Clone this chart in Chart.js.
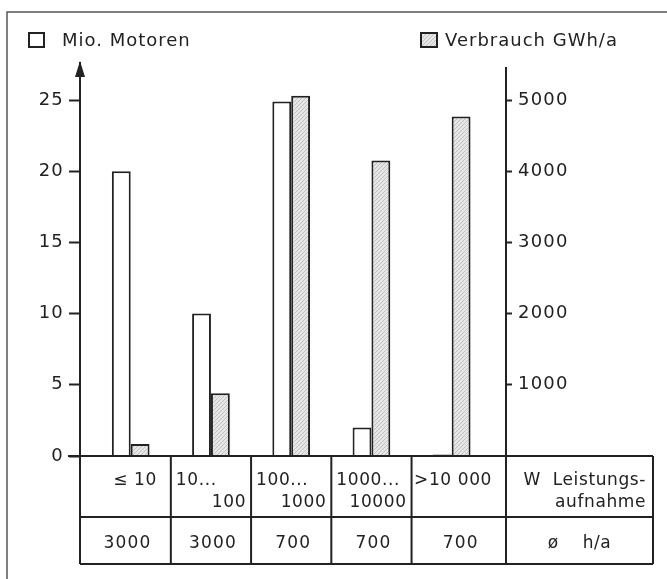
<!DOCTYPE html>
<html><head><meta charset="utf-8">
<script src="https://cdn.jsdelivr.net/npm/chart.js@4/dist/chart.umd.min.js"></script>
<style>html,body{margin:0;padding:0;background:#fff}canvas{display:block}</style>
</head><body>
<canvas id="c" width="667" height="579"></canvas>
<script>
// ---- data ----
const classLine1 = ['≤ 10', '10...', '100...', '1000...', '>10 000'];
const classLine2 = ['', '100', '1000', '10000', ''];
const hoursPerYear = ['3000', '3000', '700', '700', '700'];
const motorsMio = [20, 10, 24.9, 2, 0.1];
const consumptionGWh = [170, 880, 5060, 4150, 4770];
const motorTicks = [0, 5, 10, 15, 20, 25];
const consumptionTicks = [1000, 2000, 3000, 4000, 5000];
const seriesLabels = ['Mio. Motoren', 'Verbrauch GWh/a'];
const rowLabel1 = ['W  Leistungs-', 'aufnahme'];
const rowLabel2 = 'ø    h/a';

const FONT = '"DejaVu Sans", sans-serif';
const INK = '#222';
const canvas = document.getElementById('c');
const ctx0 = canvas.getContext('2d');

function makePattern() {
  const c = document.createElement('canvas');
  c.width = 4; c.height = 4;
  const g = c.getContext('2d');
  g.fillStyle = '#e6e6e6'; g.fillRect(0, 0, 4, 4);
  g.fillStyle = '#c2c2c2';
  for (let i = 0; i < 4; i++) g.fillRect(i, 3 - i, 1, 1);
  return ctx0.createPattern(c, 'repeat');
}
const hatch = makePattern();

const spacing = {
  id: 'spacing',
  beforeDraw(chart) { chart.ctx.letterSpacing = '1.2px'; }
};

const decor = {
  id: 'decor',
  afterDraw(chart) {
    const ctx = chart.ctx;
    const ca = chart.chartArea;
    const xs = chart.scales.x;
    ctx.save();
    // outer frame (top + left)
    ctx.strokeStyle = '#555'; ctx.lineWidth = 1.5;
    ctx.beginPath(); ctx.moveTo(7, 579); ctx.lineTo(7, 12); ctx.lineTo(667, 12); ctx.stroke();

    // arrow head on left axis
    ctx.fillStyle = INK;
    ctx.beginPath();
    ctx.moveTo(ca.left, ca.top - 2);
    ctx.lineTo(ca.left - 5, ca.top + 14);
    ctx.lineTo(ca.left + 5, ca.top + 14);
    ctx.closePath(); ctx.fill();

    // legend
    ctx.letterSpacing = '1px';
    ctx.font = '18px ' + FONT;
    ctx.textBaseline = 'alphabetic';
    ctx.textAlign = 'left';
    ctx.lineWidth = 2; ctx.strokeStyle = INK;
    ctx.fillStyle = '#fff';
    ctx.fillRect(29, 33, 15, 14); ctx.strokeRect(29, 33, 15, 14);
    ctx.fillStyle = INK; ctx.fillText(chart.data.datasets[0].label, 62, 46);
    ctx.fillStyle = hatch;
    ctx.fillRect(421, 33, 16, 14); ctx.strokeRect(421, 33, 16, 14);
    ctx.fillStyle = INK; ctx.fillText(chart.data.datasets[1].label, 445, 46);

    // table
    const top = ca.bottom, mid = 517, bot = 564, tableRight = 653;
    const bounds = [ca.left];
    for (let i = 0; i < classLine1.length - 1; i++) bounds.push(xs.getPixelForValue(i + 0.5));
    bounds.push(ca.right);
    ctx.strokeStyle = INK; ctx.lineWidth = 2;
    ctx.beginPath();
    ctx.moveTo(ca.left - 12, top); ctx.lineTo(tableRight, top);
    ctx.moveTo(ca.left, mid); ctx.lineTo(tableRight, mid);
    ctx.moveTo(ca.left, bot); ctx.lineTo(tableRight, bot);
    bounds.forEach(b => { ctx.moveTo(b, top); ctx.lineTo(b, bot); });
    ctx.moveTo(ca.right, ca.top + 4); ctx.lineTo(ca.right, bot);
    ctx.moveTo(tableRight, top); ctx.lineTo(tableRight, bot);
    ctx.stroke();

    ctx.fillStyle = INK;
    ctx.letterSpacing = '0.6px';
    ctx.font = '17px ' + FONT;
    for (let i = 0; i < classLine1.length; i++) {
      const l = bounds[i], r = bounds[i + 1];
      if (classLine2[i]) {
        ctx.textAlign = 'left'; ctx.fillText(classLine1[i], l + 5, 485);
        ctx.textAlign = 'right'; ctx.fillText(classLine2[i], r - 5, 507);
      } else {
        ctx.textAlign = 'right'; ctx.fillText(classLine1[i], r - 14, 485);
      }
      ctx.textAlign = 'center';
      ctx.letterSpacing = '1.2px';
      ctx.fillText(hoursPerYear[i], (l + r) / 2 + 2, 548);
      ctx.letterSpacing = '0.6px';
    }
    ctx.textAlign = 'right';
    ctx.fillText(rowLabel1[0], tableRight - 7, 485);
    ctx.fillText(rowLabel1[1], tableRight - 7, 507);
    ctx.textAlign = 'center';
    ctx.fillText(rowLabel2, (ca.right + tableRight) / 2, 548);
    ctx.restore();
  }
};

new Chart(canvas, {
  type: 'bar',
  data: {
    datasets: [
      { label: seriesLabels[0], data: motorsMio.map((v, i) => ({ x: i, y: v })), yAxisID: 'yL',
        backgroundColor: '#fff', borderColor: INK, borderWidth: 2, borderSkipped: 'bottom',
        categoryPercentage: 0.47, barPercentage: 1 },
      { label: seriesLabels[1], data: consumptionGWh.map((v, i) => ({ x: i, y: v })), yAxisID: 'yR',
        backgroundColor: hatch, borderColor: INK, borderWidth: 2, borderSkipped: 'bottom',
        categoryPercentage: 0.47, barPercentage: 1 }
    ]
  },
  options: {
    responsive: false, animation: false, devicePixelRatio: 1,
    layout: { padding: { left: 0, right: 0, top: 63, bottom: 0 } },
    plugins: { legend: { display: false }, tooltip: { enabled: false } },
    scales: {
      x: { type: 'linear', min: -0.632, max: 4.677, offset: false,
           afterBuildTicks(s) { s.ticks = classLine1.map((_, i) => ({ value: i })); },
           grid: { display: false, offset: false },
           ticks: { display: false }, border: { display: false },
           afterFit(s) { s.height = 123; } },
      yL: { position: 'left', min: 0, max: 27.6,
            afterBuildTicks(s) { s.ticks = motorTicks.map(v => ({ value: v })); },
            grid: { drawOnChartArea: false, drawTicks: true, tickLength: 11, tickColor: INK, tickWidth: 2 },
            border: { display: true, color: INK, width: 2 },
            ticks: { color: INK, font: { family: FONT, size: 18 }, padding: 5, callback: v => String(v) },
            afterFit(s) { s.width = 80; } },
      yR: { position: 'right', min: 0, max: 5520,
            afterBuildTicks(s) { s.ticks = consumptionTicks.map(v => ({ value: v })); },
            grid: { drawOnChartArea: false, drawTicks: true, tickLength: 6, tickColor: INK, tickWidth: 2 },
            border: { display: false },
            ticks: { color: INK, font: { family: FONT, size: 18 }, padding: 6, callback: v => String(v) },
            afterFit(s) { s.width = 161; } }
    }
  },
  plugins: [spacing, decor]
});
</script>
</body></html>
